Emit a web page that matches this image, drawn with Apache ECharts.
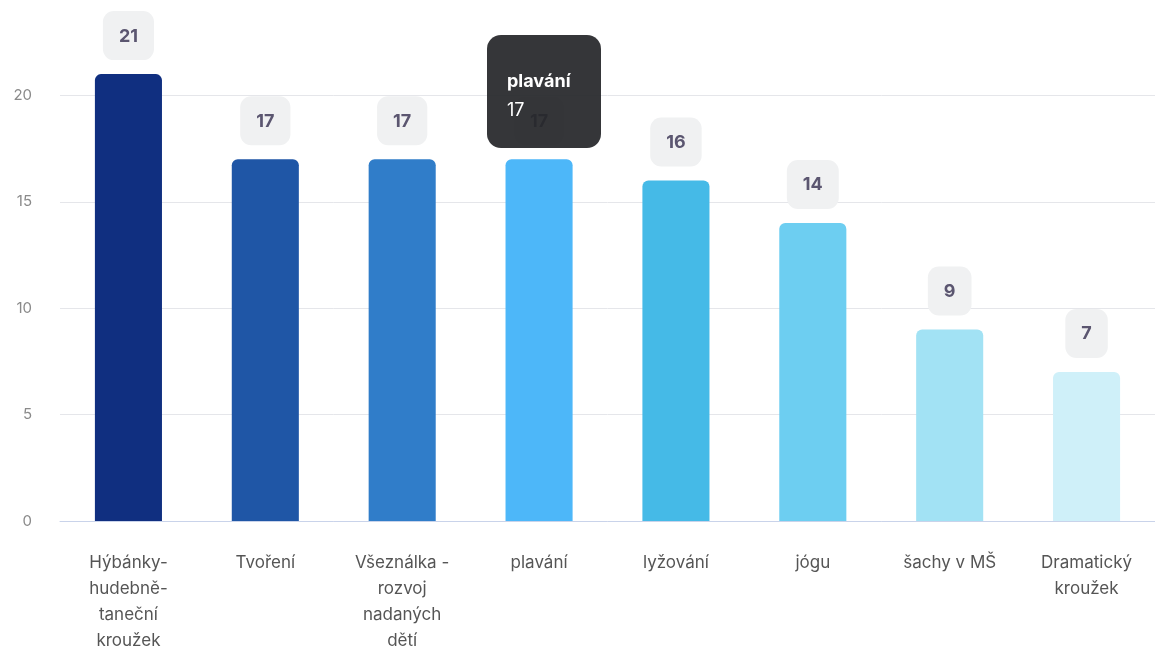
<!DOCTYPE html>
<html>
<head>
<meta charset="utf-8">
<script src="https://cdn.jsdelivr.net/npm/echarts@6/dist/echarts.min.js"></script>
<style>
html,body{margin:0;padding:0;background:#fff;overflow:hidden;width:1155px;height:654px;position:relative;}
#c{position:absolute;left:0;top:-20px;width:1155px;height:674px;}
</style>
</head>
<body>
<div id="c"></div>
<script>
const categories = ["Hýbánky-hudebně-taneční kroužek", "Tvoření", "Všeználka - rozvoj nadaných dětí", "plavání", "lyžování", "jógu", "šachy v MŠ", "Dramatický kroužek"];
const tickLabels = ["Hýbánky-\nhudebně-\ntaneční\nkroužek", "Tvoření", "Všeználka -\nrozvoj\nnadaných\ndětí", "plavání", "lyžování", "jógu", "šachy v MŠ", "Dramatický\nkroužek"];
const values = [21, 17, 17, 17, 16, 14, 9, 7];
const barColors = ["#102f80", "#1f56a6", "#307dc9", "#4db7f9", "#45bae7", "#6dcef1", "#a2e2f4", "#cff0f9"];
const yTicks = [0, 5, 10, 15, 20];

const chart = echarts.init(document.getElementById('c'));
chart.setOption({
  animation: false,
  textStyle: { fontFamily: 'Inter, "Noto Sans", sans-serif' },
  grid: { left: 60, right: 0, top: 9, bottom: 125, containLabel: false },
  tooltip: {
    trigger: 'item',
    alwaysShowContent: true,
    transitionDuration: 0,
    position: [487, 55],
    backgroundColor: 'rgba(38,39,42,0.93)',
    borderWidth: 0,
    padding: [31, 20, 24, 20],
    extraCssText: 'border-radius:14px;box-shadow:none;',
    formatter: function (p) {
      return '<div style="font-family:Inter,sans-serif;color:#fff;font-size:18px;line-height:29px;min-width:74px;">' +
        '<b>' + p.name + '</b><br/>' + p.value + '</div>';
    }
  },
  xAxis: {
    type: 'category',
    data: categories,
    axisTick: { show: false },
    axisLine: { lineStyle: { color: '#c9d3ea', width: 1 } },
    axisLabel: {
      interval: 0,
      margin: 29,
      color: '#555555',
      fontSize: 17,
      lineHeight: 26,
      formatter: function (v, i) { return tickLabels[i]; }
    }
  },
  yAxis: {
    type: 'value',
    min: 0,
    max: 25,
    interval: 5,
    axisLabel: {
      color: '#8a8a8a',
      fontSize: 15,
      margin: 28,
      formatter: function (v) { return yTicks.indexOf(v) >= 0 ? String(v) : ''; }
    },
    splitLine: { lineStyle: { color: '#e5e6ea', width: 1 } },
    axisLine: { show: false },
    axisTick: { show: false }
  },
  series: [{
    type: 'bar',
    barWidth: '49%',
    data: values.map(function (v, i) {
      return { value: v, itemStyle: { color: barColors[i], borderRadius: [6, 6, 0, 0] } };
    }),
    emphasis: { disabled: true },
    label: {
      show: true,
      position: 'top',
      distance: 14,
      color: '#5b5670',
      fontSize: 18,
      fontWeight: 'bold',
      backgroundColor: '#f0f1f2',
      borderRadius: 11,
      padding: [16, 16, 15, 16]
    }
  }]
});
chart.dispatchAction({ type: 'showTip', seriesIndex: 0, dataIndex: 3 });
</script>
</body>
</html>
